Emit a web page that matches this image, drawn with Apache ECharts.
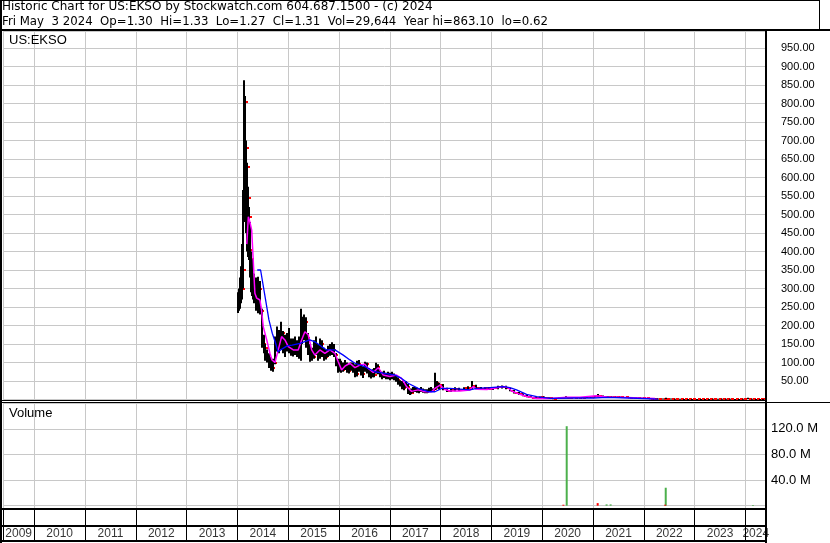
<!DOCTYPE html>
<html><head><meta charset="utf-8">
<script src="https://cdn.jsdelivr.net/npm/echarts@6/dist/echarts.min.js"></script>
<style>html,body{margin:0;padding:0;background:#fff}#c{width:830px;height:543px}</style>
</head><body><div id="c"></div>
<script>
// ---------- DATA ----------
const headerLine1 = 'Historic Chart for US:EKSO by Stockwatch.com 604.687.1500 - (c) 2024';
const headerLine2 = 'Fri May  3 2024  Op=1.30  Hi=1.33  Lo=1.27  Cl=1.31  Vol=29,644  Year hi=863.10  lo=0.62';
const symbolLabel = 'US:EKSO';
const volumeLabel = 'Volume';
const yearLabels = ['2009','2010','2011','2012','2013','2014','2015','2016','2017','2018','2019','2020','2021','2022','2023','2024'];

const priceDates = [
 '2014-01-06','2014-01-13','2014-01-20','2014-01-27','2014-02-03','2014-02-10','2014-02-17','2014-02-24','2014-03-03','2014-03-10',
 '2014-03-17','2014-03-24','2014-03-31','2014-04-07','2014-04-14','2014-04-21','2014-04-28','2014-05-12','2014-05-26','2014-06-09',
 '2014-06-23','2014-07-07','2014-07-21','2014-08-04','2014-08-18','2014-09-01','2014-09-15','2014-09-29','2014-10-13','2014-10-27',
 '2014-11-10','2014-11-24','2014-12-08','2014-12-22',
 '2015-01-05','2015-01-19','2015-02-02','2015-02-16','2015-03-02','2015-03-16','2015-03-30','2015-04-13','2015-04-27','2015-05-11',
 '2015-05-25','2015-06-08','2015-06-22','2015-07-06','2015-07-20','2015-08-03','2015-08-17','2015-08-31','2015-09-14','2015-09-28',
 '2015-10-12','2015-10-26','2015-11-09','2015-11-23','2015-12-07','2015-12-21',
 '2016-01-04','2016-01-18','2016-02-01','2016-02-15','2016-02-29','2016-03-14','2016-03-28','2016-04-11','2016-04-25','2016-05-09',
 '2016-05-23','2016-06-06','2016-06-20','2016-07-04','2016-07-18','2016-08-01','2016-08-15','2016-08-29','2016-09-12','2016-09-26',
 '2016-10-10','2016-10-24','2016-11-07','2016-11-21','2016-12-05','2016-12-19',
 '2017-01-02','2017-01-16','2017-01-30','2017-02-13','2017-02-27','2017-03-13','2017-03-27','2017-04-10','2017-04-24','2017-05-08',
 '2017-05-22','2017-06-05','2017-06-19','2017-07-03','2017-07-17','2017-07-31','2017-08-14','2017-08-28','2017-09-11','2017-09-25',
 '2017-10-09','2017-10-23','2017-11-06','2017-11-20','2017-12-04','2017-12-18',
 '2018-01-15','2018-02-15','2018-03-15','2018-04-15','2018-05-15','2018-06-15','2018-07-15','2018-08-15','2018-09-15','2018-10-15','2018-11-15','2018-12-15',
 '2019-01-15','2019-02-15','2019-03-15','2019-04-15','2019-05-15','2019-06-15','2019-07-15','2019-08-15','2019-09-15','2019-10-15','2019-11-15','2019-12-15',
 '2020-01-15','2020-02-15','2020-03-15','2020-04-15','2020-05-15','2020-06-20','2020-07-15','2020-08-15','2020-09-15','2020-10-15','2020-11-15','2020-12-15',
 '2021-01-15','2021-02-05','2021-03-15','2021-04-15','2021-05-15','2021-06-15','2021-07-15','2021-08-15','2021-09-15','2021-10-15','2021-11-15','2021-12-15',
 '2022-01-15','2022-02-15','2022-03-15','2022-04-15','2022-05-15','2022-06-10','2022-07-15','2022-08-15','2022-09-15','2022-10-15','2022-11-15','2022-12-15',
 '2023-01-15','2023-02-15','2023-03-15','2023-04-15','2023-05-15','2023-06-15','2023-07-15','2023-08-15','2023-09-15','2023-10-15','2023-11-15','2023-12-15',
 '2024-01-20','2024-02-15','2024-03-15','2024-04-15','2024-05-03'
];
const priceOpen = [
 250,265,285,310,300,350,540,800,680,620, 540,490,400,380,330,300,320,280,270,300,
 240,150,140,120,110,95,85,100,160,150, 140,180,140,150,
 160,140,130,150,135,125,160,200,190,210, 165,130,120,115,150,130,120,150,125,115,
 130,125,140,135,120,100,
 85,95,80,90,85,78,85,90,80,70, 95,85,70,85,95,75,65,75,65,80,
 88,72,65,70,62,68,
 60,65,60,55,52,45,40,30,40,35, 20,18,25,28,24,22,26,24,22,20,
 25,27,24,28,45,35,
 38,28,22,26,28,26,30,32,36,30,28,30,
 28,32,34,35,30,24,18,14,10,8,5,5,
 6,4,3,2,3,4,5,5,5,4.5,5,6,
 7,9,10,8,7,6,7,6,5.5,5,4.5,4,
 3.5,3,2.5,2.2,2,1.9,2,1.8,1.7,1.3,1.0,1.1,
 0.9,1.1,1.4,1.1,1.3,1.6,1.8,2.0,1.8,1.5,1.3,1.4,
 1.8,2.0,1.4,1.2,1.30
];
const priceHigh = [
 290,300,330,360,420,566,863,820,700,640, 575,520,480,400,380,342,340,330,332,320,
 245,175,150,135,125,115,110,170,197,188, 210,185,175,180,
 193,165,165,170,160,170,245,224,230,222, 180,150,140,160,170,150,165,160,140,135,
 145,150,155,150,126,110,
 110,105,100,107,100,95,100,100,95,105, 107,95,90,102,100,85,80,82,85,99,
 95,80,75,78,72,75,
 72,75,70,65,60,52,50,45,50,42, 28,30,34,34,32,30,34,30,28,28,
 32,34,30,72,50,45,
 42,32,30,33,32,33,36,50,40,34,33,34,
 34,37,38,37,32,26,20,16,12,9,7,8,
 8,6,4,4,5,9,7,6,6,6,7,8,
 10,15,11,9,8,8,8,7,6,6,5,4.5,
 4,3.5,3,2.6,2.4,5,2.4,2.2,2,1.5,1.3,1.2,
 1.3,1.6,1.6,1.5,1.9,2.0,2.3,2.2,1.9,1.6,1.5,2.0,
 5,2.1,1.5,1.4,1.33
];
const priceLow = [
 234,240,245,260,270,300,480,560,450,400, 385,377,330,290,280,270,260,240,233,230,
 140,125,105,100,85,78,75,95,130,125, 135,125,115,130,
 125,118,116,120,115,110,105,150,160,140, 120,102,105,110,120,105,110,115,105,108,
 115,118,120,115,90,72,
 75,72,75,80,72,70,78,72,60,62, 75,65,58,75,70,60,57,60,60,70,
 68,60,55,58,55,55,
 52,55,52,48,40,35,28,25,32,15, 12,14,18,20,18,17,20,18,17,17,
 22,22,20,26,30,28,
 25,20,20,22,23,24,26,28,28,26,26,26,
 26,28,30,28,22,16,12,9,6,4,3,4,
 3,2,1,1.5,2,3,4,4,4,4,4,5,
 6,8,7,6,5,5,5,5,4.5,4,3.5,3,
 2.5,2.2,2,1.8,1.6,1.6,1.6,1.5,1.2,0.9,0.8,0.7,
 0.7,1.0,1.0,1.0,1.2,1.4,1.6,1.6,1.4,1.2,1.1,1.3,
 1.5,1.3,1.1,1.1,1.27
];
const priceClose = [
 265,285,310,300,350,540,804,680,628,545, 493,404,380,330,300,320,280,270,300,240,
 150,140,120,110,95,85,100,160,150,140, 180,140,150,160,
 140,130,150,135,125,160,200,190,210,165, 130,120,115,150,130,120,150,125,115,130,
 125,140,135,120,100,85,
 95,80,90,85,78,85,90,80,70,95, 85,70,85,95,75,65,75,65,80,88,
 72,65,70,62,68,60,
 65,60,55,52,45,40,30,40,35,20, 18,25,28,24,22,26,24,22,20,25,
 27,24,28,45,35,38,
 28,22,26,28,26,30,32,36,30,28,30,28,
 32,34,35,30,24,18,14,10,8,5,5,6,
 4,3,2,3,4,5,5,5,4.5,5,6,7,
 9,10,8,7,6,7,6,5.5,5,4.5,4,3.5,
 3,2.5,2.2,2,1.9,2,1.8,1.7,1.3,1.0,1.1,0.8,
 1.1,1.4,1.1,1.3,1.6,1.8,2.0,1.8,1.5,1.3,1.4,1.8,
 2.0,1.4,1.2,1.3,1.31
];

// short moving average (magenta)
const maShortDates = ['2014-03-09','2014-03-20','2014-03-31','2014-04-13','2014-04-24','2014-05-06','2014-05-19','2014-06-11','2014-06-23','2014-07-05',
 '2014-07-30','2014-08-22','2014-09-06','2014-09-27','2014-10-21','2014-11-14','2014-12-08','2015-01-01','2015-02-06','2015-03-13',
 '2015-04-07','2015-04-30','2015-05-24','2015-06-18','2015-07-11','2015-08-16','2015-09-21','2015-10-27','2015-12-02','2015-12-26',
 '2016-01-19','2016-02-12','2016-03-19','2016-04-24','2016-05-30','2016-07-05','2016-07-29','2016-09-03','2016-10-09','2016-11-14',
 '2017-01-01','2017-02-18','2017-03-26','2017-05-01','2017-06-06','2017-07-23','2017-09-10','2017-10-28','2017-11-21','2017-12-27',
 '2018-01-31','2018-03-08','2018-05-19','2018-07-30','2018-08-23','2018-09-17','2018-11-28','2019-01-14','2019-03-26','2019-05-01',
 '2019-05-26','2019-07-24','2019-09-10','2019-11-22','2020-02-26','2020-06-25','2020-09-28','2021-01-26','2021-04-09','2021-07-13',
 '2021-12-03','2022-03-22'];
const maShortValues = [420,494,480,458,377,287,274,269,242,197,
 161,125,107,100,134,170,161,143,134,134,
 161,183,175,134,120,134,125,134,125,102,
 80,90,98,86,93,95,84,73,86,66,
 62,66,57,35,22,26,21,21,30,39,
 27,23,23,26,35,28,27,30,35,32,
 23,14,8,3,3,6,6,10,7,6,
 4,2.5];

// long moving average (blue)
const maLongDates = ['2014-05-23','2014-06-16','2014-07-22','2014-08-15','2014-09-08','2014-10-02','2014-10-19','2014-11-07','2014-12-24','2015-01-29',
 '2015-03-26','2015-06-05','2015-07-11','2015-08-28','2015-10-03','2015-12-02','2016-01-31','2016-03-19','2016-04-24','2016-07-05',
 '2016-09-15','2016-11-14','2017-02-06','2017-03-26','2017-05-12','2017-07-23','2017-10-03','2017-11-21','2018-01-08','2018-03-08',
 '2018-05-19','2018-07-30','2018-09-17','2018-12-21','2019-03-26','2019-05-13','2019-06-30','2019-09-10','2019-11-22','2020-02-26',
 '2020-08-11','2021-01-02','2021-04-09','2021-09-23','2022-04-12'];
const maLongValues = [350,350,269,215,179,152,129,134,145,147,
 152,161,156,143,134,134,120,107,98,89,
 75,71,66,57,44,30,21,21,30,30,
 28,26,30,32,35,32,26,14,8,3,
 4,4,6,4,1];

const volUpDates = ['2020-06-25','2021-04-08','2021-05-07','2022-06-07','2024-02-24'];
const volUpValues = [124e6, 2e6, 2e6, 28e6, 1e6];
const volDownDates = ['2020-06-01','2021-02-03','2022-06-03'];
const volDownValues = [1.5e6, 4e6, 1.5e6];

// ---------- HELPERS ----------
function toYear(s) {
  const [y, m, d] = s.split('-').map(Number);
  const start = Date.UTC(y, 0, 1), end = Date.UTC(y + 1, 0, 1);
  return y + (Date.UTC(y, m - 1, d) - start) / (end - start);
}
const X_MIN = 2009.384, X_MAX = 2024.404;
const PANEL_L = 3, PANEL_R = 830 - 766;

const ohlc = priceDates.map((d, i) => [toYear(d), priceOpen[i], priceHigh[i], priceLow[i], priceClose[i]]);
const maShort = maShortDates.map((d, i) => [toYear(d), maShortValues[i]]);
const maLong = maLongDates.map((d, i) => [toYear(d), maLongValues[i]]);
const volUp = volUpDates.map((d, i) => [toYear(d), volUpValues[i]]);
const volDown = volDownDates.map((d, i) => [toYear(d), volDownValues[i]]);
const yearCells = yearLabels.map(y => {
  const a = Math.max(+y, X_MIN), b = Math.min(+y + 1, X_MAX);
  return { value: [(a + b) / 2, 0.5], name: y };
});

const gray = '#c8c8c8';
const xBase = (grid, splitColor) => ({
  gridIndex: grid, type: 'value', min: X_MIN, max: X_MAX,
  splitNumber: 15, minInterval: 1, maxInterval: 1,
  axisLine: { show: false }, axisTick: { show: false }, axisLabel: { show: false },
  splitLine: { show: true, lineStyle: { color: splitColor, width: 1 } }
});
const headStyle = size => ({ fontFamily: 'DejaVu Sans', fontSize: size, fontWeight: 'normal', color: '#000', lineHeight: 12 });

const chart = echarts.init(document.getElementById('c'), null, { renderer: 'canvas' });
const option = {
  animation: false,
  backgroundColor: '#fff',
  title: [
    { text: headerLine1, left: 2, top: 0.5, padding: 0, textStyle: headStyle(12) },
    { text: headerLine2, left: 2, top: 15.5, padding: 0, textStyle: headStyle(11.75) },
    { text: symbolLabel, left: 9, top: 33, padding: 0,
      textStyle: { fontFamily: 'Liberation Sans', fontSize: 13, fontWeight: 'normal', color: '#000', lineHeight: 15 } },
    { text: volumeLabel, left: 9, top: 406, padding: 0,
      textStyle: { fontFamily: 'Liberation Sans', fontSize: 13, fontWeight: 'normal', color: '#000', lineHeight: 15 } }
  ],
  grid: [
    { left: PANEL_L, right: PANEL_R, top: 31, height: 369.5 },
    { left: PANEL_L, right: PANEL_R, top: 403, height: 105.5 },
    { left: PANEL_L, right: PANEL_R, top: 510, height: 16 },
    { left: PANEL_L, right: PANEL_R, top: 527, height: 14 }
  ],
  xAxis: [xBase(0, gray), xBase(1, gray), xBase(2, '#000'), xBase(3, '#000')],
  yAxis: [
    { gridIndex: 0, type: 'value', position: 'right', min: -2.7, max: 996,
      splitNumber: 20, minInterval: 50, maxInterval: 50,
      axisLine: { show: false }, axisTick: { show: false },
      splitLine: { show: true, lineStyle: { color: gray } },
      axisLabel: { margin: 15, color: '#000', fontFamily: 'Liberation Sans', fontSize: 11,
        formatter: v => (v > 1 && v < 960 && Math.abs(v % 50) < 1e-6) ? v.toFixed(2) : '' } },
    { gridIndex: 1, type: 'value', position: 'right', min: -4.4e6, max: 160.2e6,
      splitNumber: 4, minInterval: 40e6, maxInterval: 40e6,
      axisLine: { show: false }, axisTick: { show: false },
      splitLine: { show: true, lineStyle: { color: gray } },
      axisLabel: { margin: 5, color: '#000', fontFamily: 'Liberation Sans', fontSize: 13,
        formatter: v => (v > 1 && v < 150e6) ? (v / 1e6).toFixed(1) + ' M' : '' } },
    { gridIndex: 2, type: 'value', min: 0, max: 1, show: false },
    { gridIndex: 3, type: 'value', min: 0, max: 1, show: false }
  ],
  series: [
    { type: 'custom', xAxisIndex: 0, yAxisIndex: 0, data: ohlc, clip: true, z: 2,
      renderItem: (params, api) => {
        const t = api.value(0);
        const top = api.coord([t, api.value(2)]);
        const bot = api.coord([t, api.value(3)]);
        const cl = api.coord([t, api.value(4)]);
        const x = Math.round(top[0]);
        return { type: 'group', children: [
          { type: 'rect', shape: { x: x - 1, y: top[1], width: 2, height: Math.max(bot[1] - top[1], 1) }, style: { fill: '#000' } },
          { type: 'rect', shape: { x: x + 1, y: Math.round(cl[1]) - 1, width: 3, height: 2 }, style: { fill: '#ff0000' } }
        ] };
      } },
    { type: 'line', xAxisIndex: 0, yAxisIndex: 0, data: maShort, showSymbol: false, z: 3,
      lineStyle: { color: '#ff00ff', width: 1.5 } },
    { type: 'line', xAxisIndex: 0, yAxisIndex: 0, data: maLong, showSymbol: false, z: 4,
      lineStyle: { color: '#0000ff', width: 1.3 } },
    { type: 'bar', xAxisIndex: 1, yAxisIndex: 1, data: volUp, barWidth: 2, itemStyle: { color: '#4cb04c' } },
    { type: 'bar', xAxisIndex: 1, yAxisIndex: 1, data: volDown, barWidth: 2, barGap: '-100%', itemStyle: { color: '#ff0000' } },
    { type: 'scatter', xAxisIndex: 3, yAxisIndex: 3, data: yearCells, symbolSize: 0, silent: true,
      label: { show: true, position: 'inside', formatter: p => p.name, color: '#000',
        fontFamily: 'Liberation Sans', fontSize: 12 } }
  ],
  graphic: [
    { type: 'rect', shape: { x: 0, y: 0, width: 820, height: 1 }, style: { fill: '#000' }, z: 100 },
    { type: 'rect', shape: { x: 819, y: 0, width: 1, height: 30 }, style: { fill: '#000' }, z: 100 },
    { type: 'rect', shape: { x: 0, y: 29, width: 830, height: 2 }, style: { fill: '#000' }, z: 100 },
    { type: 'rect', shape: { x: 0, y: 0, width: 2, height: 543 }, style: { fill: '#000' }, z: 100 },
    { type: 'rect', shape: { x: 765, y: 31, width: 2, height: 512 }, style: { fill: '#000' }, z: 100 },
    { type: 'rect', shape: { x: 0, y: 400, width: 766, height: 1 }, style: { fill: '#000' }, z: 100 },
    { type: 'rect', shape: { x: 0, y: 402, width: 830, height: 1 }, style: { fill: '#000' }, z: 100 },
    { type: 'rect', shape: { x: 0, y: 508, width: 766, height: 2 }, style: { fill: '#000' }, z: 100 },
    { type: 'rect', shape: { x: 0, y: 525, width: 766, height: 2 }, style: { fill: '#000' }, z: 100 },
    { type: 'rect', shape: { x: 0, y: 540, width: 766, height: 2 }, style: { fill: '#000' }, z: 100 }
  ]
};
chart.setOption(option);
</script></body></html>
